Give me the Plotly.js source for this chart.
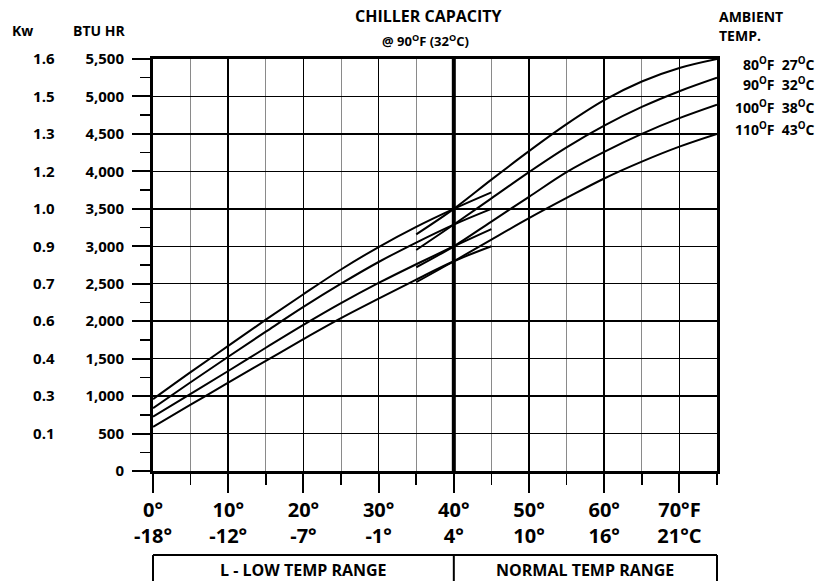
<!DOCTYPE html>
<html>
<head>
<meta charset="utf-8">
<script src="https://cdn.plot.ly/plotly-3.0.1.min.js"></script>
<style>html,body{margin:0;padding:0;background:#fff;}#chart{width:819px;height:581px;}</style>
</head>
<body>
<div id="chart"></div>
<script>
// ---- data ----
const lowTemps = [0, 5, 10, 15, 20, 25, 30, 35, 40, 45];
const low80  = [960, 1320, 1670, 2020, 2360, 2690, 2990, 3260, 3500, 3720];
const low90  = [840, 1185, 1525, 1860, 2190, 2500, 2790, 3050, 3290, 3500];
const low100 = [725, 1030, 1335, 1645, 1950, 2240, 2510, 2760, 3000, 3230];
const low110 = [590, 885, 1180, 1470, 1760, 2040, 2300, 2555, 2800, 3000];

const normalTemps = [35, 40, 45, 50, 55, 60, 65, 70, 75];
const norm80  = [3160, 3500, 3890, 4270, 4630, 4950, 5200, 5380, 5500];
const norm90  = [2950, 3290, 3640, 3990, 4320, 4610, 4860, 5070, 5250];
const norm100 = [2720, 3000, 3330, 3660, 3990, 4260, 4500, 4710, 4890];
const norm110 = [2520, 2800, 3090, 3375, 3645, 3905, 4130, 4330, 4500];

const xTickVals = [0, 10, 20, 30, 40, 50, 60, 70];
const xTickText = ['0°<br>-18°', '10°<br>-12°', '20°<br>-7°', '30°<br>-1°', '40°<br>4°', '50°<br>10°', '60°<br>16°', '70°F<br>21°C'];
const btuTicks = [0, 500, 1000, 1500, 2000, 2500, 3000, 3500, 4000, 4500, 5000, 5500];
const kwTickVals = [500, 1000, 1500, 2000, 2500, 3000, 3500, 4000, 4500, 5000, 5500];
const kwTickText = ['0.1', '0.3', '0.4', '0.6', '0.7', '0.9', '1.0', '1.2', '1.3', '1.5', '1.6'];
const ambientLabels = ['80<sup>O</sup>F\u00A0\u00A027<sup>O</sup>C', '90<sup>O</sup>F\u00A0\u00A032<sup>O</sup>C', '100<sup>O</sup>F\u00A0\u00A038<sup>O</sup>C', '110<sup>O</sup>F\u00A0\u00A043<sup>O</sup>C'];
const rangeBreak = 40;
const xMin = 0, xMax = 75, yMin = 0, yMax = 5500;
const rangeNames = ['L - LOW TEMP RANGE', 'NORMAL TEMP RANGE'];

// ---- layout helpers ----
const FONT = 'Open Sans, Arial, sans-serif';
const d0 = 0.2023;
function px(v) { return d0 + (v - xMin) / (xMax - xMin) * (1 - d0); }

const lineStyle = {color: '#000', width: 2, shape: 'spline', smoothing: 1};
const traces = [];
[low80, low90, low100, low110].forEach(ys => traces.push({x: lowTemps, y: ys, mode: 'lines', line: lineStyle, hoverinfo: 'skip', showlegend: false}));
[norm80, norm90, norm100, norm110].forEach(ys => traces.push({x: normalTemps, y: ys, mode: 'lines', line: lineStyle, hoverinfo: 'skip', showlegend: false}));
traces.push({x: [xMin], y: [yMin], yaxis: 'y2', mode: 'markers', marker: {opacity: 0}, hoverinfo: 'skip', showlegend: false});

const boxTop = -0.2039, boxBottom = -0.35;
const shapes = [
  {type: 'line', xref: 'x', yref: 'paper', x0: rangeBreak, x1: rangeBreak, y0: 0, y1: 1, line: {color: '#000', width: 4}},
  {type: 'line', xref: 'paper', yref: 'paper', x0: px(xMin), x1: px(xMax), y0: boxTop, y1: boxTop, line: {color: '#000', width: 2}},
  {type: 'line', xref: 'paper', yref: 'paper', x0: px(xMin), x1: px(xMin), y0: boxTop, y1: boxBottom, line: {color: '#000', width: 2}},
  {type: 'line', xref: 'paper', yref: 'paper', x0: px(rangeBreak), x1: px(rangeBreak), y0: boxTop, y1: boxBottom, line: {color: '#000', width: 2}},
  {type: 'line', xref: 'paper', yref: 'paper', x0: px(xMax), x1: px(xMax), y0: boxTop, y1: boxBottom, line: {color: '#000', width: 2}}
];

const annotations = [
  {text: '<b>CHILLER CAPACITY</b>', xref: 'paper', yref: 'paper', x: 0.5924, y: 1.104, xanchor: 'center', yanchor: 'middle', showarrow: false, font: {family: FONT, size: 16, color: '#000'}},
  {text: '<b>@ 90<sup>O</sup>F (32<sup>O</sup>C)</b>', xref: 'paper', yref: 'paper', x: 0.5875, y: 1.046, xanchor: 'center', yanchor: 'middle', showarrow: false, font: {family: FONT, size: 13, color: '#000'}},
  {text: '<b>Kw</b>', xref: 'paper', yref: 'paper', x: 0, y: 1.07, xanchor: 'left', yanchor: 'middle', showarrow: false, font: {family: FONT, size: 14, color: '#000'}},
  {text: '<b>BTU HR</b>', xref: 'paper', yref: 'paper', x: 0.1655, y: 1.07, xanchor: 'right', yanchor: 'middle', showarrow: false, font: {family: FONT, size: 14, color: '#000'}},
  {text: '<b>AMBIENT</b>', xref: 'paper', yref: 'paper', x: 1.0, y: 1.104, xanchor: 'left', yanchor: 'middle', showarrow: false, font: {family: FONT, size: 14, color: '#000'}},
  {text: '<b>TEMP.</b>', xref: 'paper', yref: 'paper', x: 1.0, y: 1.058, xanchor: 'left', yanchor: 'middle', showarrow: false, font: {family: FONT, size: 14, color: '#000'}}
];
const legendY = [64, 84, 106.5, 128.5];
ambientLabels.forEach((t, i) => annotations.push({text: '<b>' + t + '</b>', xref: 'paper', yref: 'paper', x: 1.142, y: 1 - (legendY[i] - 59) / 412, xanchor: 'right', yanchor: 'middle', showarrow: false, font: {family: FONT, size: 14, color: '#000'}}));
annotations.push({text: '<b>' + rangeNames[0] + '</b>', xref: 'x', yref: 'paper', x: (xMin + rangeBreak) / 2, y: -0.2395, xanchor: 'center', yanchor: 'middle', showarrow: false, font: {family: FONT, size: 16, color: '#000'}});
annotations.push({text: '<b>' + rangeNames[1] + '</b>', xref: 'x', yref: 'paper', x: (rangeBreak + xMax) / 2, y: -0.2395, xanchor: 'center', yanchor: 'middle', showarrow: false, font: {family: FONT, size: 16, color: '#000'}});

const layout = {
  width: 819, height: 581,
  margin: {l: 10, r: 102, t: 59, b: 110},
  paper_bgcolor: '#fff', plot_bgcolor: '#fff',
  showlegend: false,
  font: {family: FONT, color: '#000'},
  xaxis: {
    domain: [d0, 1], range: [xMin, xMax], tickmode: 'array', tickvals: xTickVals, ticktext: xTickText,
    ticks: 'outside', ticklen: 19, tickwidth: 2, tickcolor: '#000',
    showgrid: true, gridcolor: '#000', gridwidth: 1.5, zeroline: false,
    showline: true, linecolor: '#000', linewidth: 3, mirror: true,
    tickfont: {family: FONT, size: 20, color: '#000', weight: 'bold'},
    minor: {dtick: 5, tick0: 0, ticks: 'outside', ticklen: 11, tickwidth: 1.5, tickcolor: '#000', showgrid: true, gridcolor: '#8a8a8a', gridwidth: 1},
    fixedrange: true
  },
  yaxis: {
    range: [yMin, yMax], tickmode: 'array', tickvals: btuTicks, tickformat: ',',
    ticks: 'outside', ticklen: 18, tickwidth: 2, tickcolor: '#000', ticklabelstandoff: 5,
    showgrid: true, gridcolor: '#000', gridwidth: 1.5,
    zeroline: true, zerolinecolor: '#000', zerolinewidth: 3,
    showline: true, linecolor: '#000', linewidth: 3, mirror: true,
    tickfont: {family: FONT, size: 15, color: '#000', weight: 'bold'},
    minor: {dtick: 250, tick0: 0, ticks: 'outside', ticklen: 10, tickwidth: 1.5, tickcolor: '#000', showgrid: false},
    fixedrange: true
  },
  yaxis2: {
    overlaying: 'y', anchor: 'free', position: 0.063, side: 'left', range: [yMin, yMax],
    tickmode: 'array', tickvals: kwTickVals, ticktext: kwTickText, ticks: '', showgrid: false, showline: false, zeroline: false,
    tickfont: {family: FONT, size: 15, color: '#000', weight: 'bold'}, fixedrange: true
  },
  shapes: shapes,
  annotations: annotations
};

Plotly.newPlot('chart', traces, layout, {displayModeBar: false, staticPlot: true});
</script>
</body>
</html>
